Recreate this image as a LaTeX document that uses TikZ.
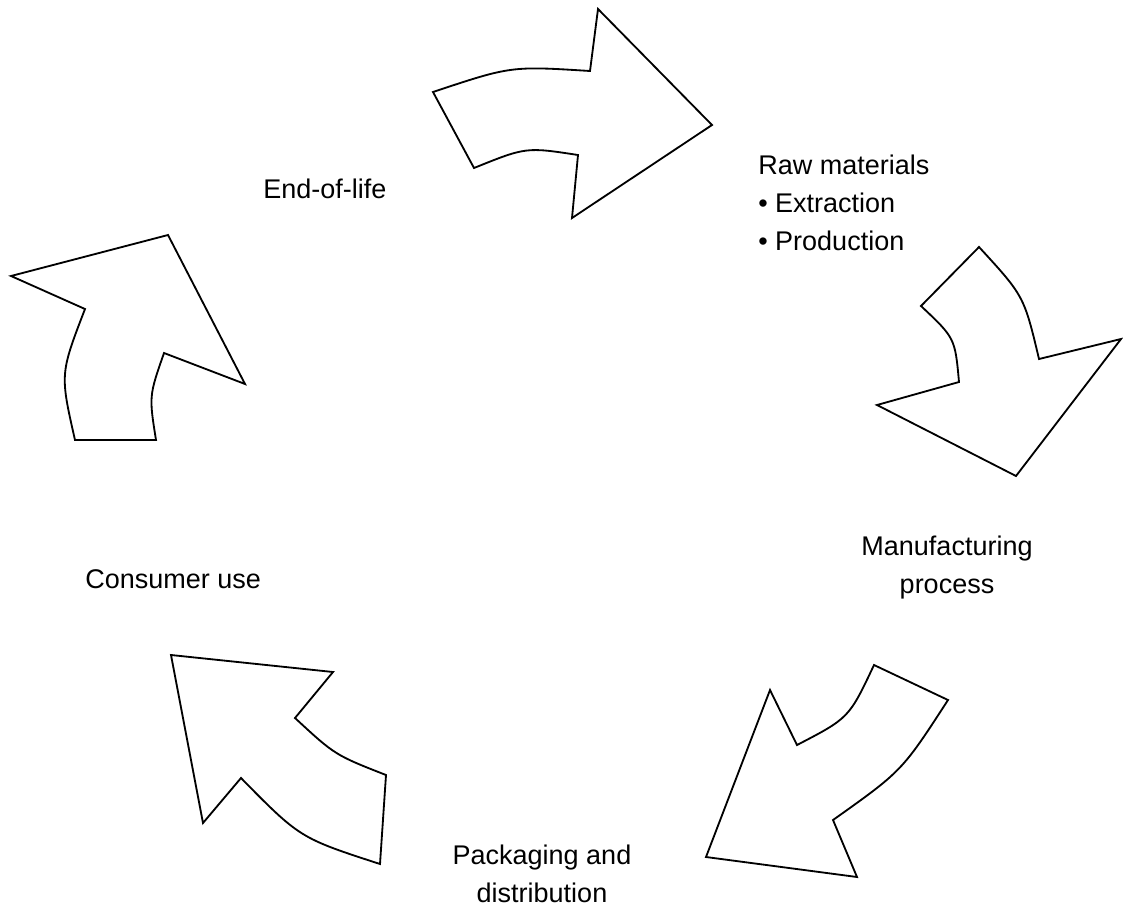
\documentclass[tikz,border=0pt]{standalone}
\usepackage{fontspec}
\setmainfont{Liberation Sans}
\tikzset{
  cyclearrow/.style={draw, line width=1.3pt, line join=miter, fill=white},
  steplabel/.style={inner sep=0pt, font=\fontsize{19.2}{26.7}\selectfont}
}
\begin{document}
\begin{tikzpicture}[x=0.025cm, y=-0.025cm]
			%%%%% START %%%%%
			\useasboundingbox (0,0) rectangle (1123,908);
			
			% top arrow
			\draw[cyclearrow] (433,92) .. controls (511,66) .. (590,71) -- (598,9) -- (712,125) -- (572,218) -- (578,155) .. controls (526,147) .. (474,168) -- cycle;
			
			% right arrow
			\draw[cyclearrow] (979,247) -- (921,306) .. controls (955,338) .. (959,382) -- (877,405) -- (1016,476) -- (1121,339) -- (1039,359) .. controls (1024,296) .. (979,247) -- cycle;
			
			% lower right arrow
			\draw[cyclearrow] (874,665) -- (948,700) .. controls (902,771) .. (833,820) -- (857,877) -- (706,857) -- (770,690) -- (797,745) .. controls (849,718) .. (874,665) -- cycle;
			
			% lower left arrow
			\draw[cyclearrow] (171,655) -- (333,672) -- (295,718) .. controls (335,755) .. (386,775) -- (380,864) .. controls (300,838) .. (241,778) -- (203,823) -- cycle;
			
			% left arrow
			\draw[cyclearrow] (168,235) -- (11,276) -- (85,309) .. controls (60,374) .. (75,440) -- (156,440) .. controls (149,396) .. (164,353) -- (245,384) -- cycle;
			
			% labels (base = last line)
			\node[steplabel, anchor=base west] (endlife) at (263,198) {End-of-life};
			\node[steplabel, anchor=base west, align=left] (rawmat) at (758,250) {Raw materials\\\textbullet{} Extraction\\\textbullet{} Production};
			\node[steplabel, anchor=base, align=center] (manuf) at (947,593) {Manufacturing\\process};
			\node[steplabel, anchor=base, align=center] (packdist) at (542,902) {Packaging and\\distribution};
			\node[steplabel, anchor=base west] (consumer) at (85,588) {Consumer use};
			
			%%%%% END %%%%%
\end{tikzpicture}
\end{document}
